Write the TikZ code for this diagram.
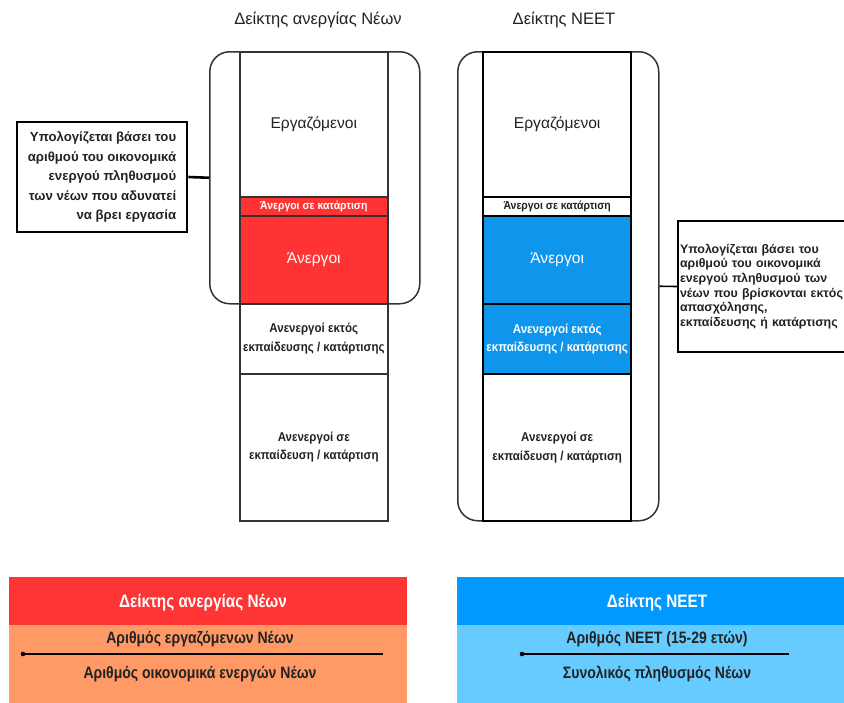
\documentclass[tikz,border=0pt]{standalone}
\usepackage{fontspec}
\setmainfont{Liberation Sans}
\newfontfamily\narrow[FakeStretch=0.85]{Liberation Sans}
\newfontfamily\semi[FakeStretch=0.90]{Liberation Sans}
\definecolor{colred}{HTML}{FF3333}
\definecolor{colblue}{HTML}{0E96EC}
\definecolor{hdrred}{HTML}{FF3434}
\definecolor{salmon}{HTML}{FF9966}
\definecolor{hdrblue}{HTML}{0099FF}
\definecolor{lightblue}{HTML}{66CCFF}
\definecolor{txt}{HTML}{222222}
\definecolor{linegray}{HTML}{333333}
\begin{document}
\begin{tikzpicture}[x=1pt,y=-1pt,
  outer/.style={draw=linegray,line width=1.5pt,rounded corners=20pt,inner sep=0pt,anchor=north west},
  bandL/.style={draw=linegray,line width=1.6pt,inner sep=0pt,anchor=north west,minimum width=148pt,align=center,text=txt},
  bandR/.style={draw=black,line width=2.4pt,inner sep=0pt,anchor=north west,minimum width=148pt,align=center,text=txt},
  colword/.style={font=\fontsize{15.6}{18}\selectfont},
  smallword/.style={font=\semi\bfseries\fontsize{11.6}{13}\selectfont},
  inact/.style={font=\semi\bfseries\fontsize{12.8}{18.5}\selectfont},
  title/.style={font=\fontsize{16.5}{18}\selectfont,text=txt},
  hdr/.style={inner sep=0pt,anchor=north west,minimum width=398pt},
  hdrtext/.style={font=\narrow\bfseries\fontsize{18}{20}\selectfont,text=white},
  fractext/.style={font=\narrow\bfseries\fontsize{16.5}{18}\selectfont,text=txt},
  fracline/.style={line width=2pt,black}
]
\clip (0,0) rectangle (844,702);
\fill[white] (0,0) rectangle (844,702);

% titles
\node[title] (t1) at (318,20) {Δείκτης ανεργίας Νέων};
\node[title] (t2) at (564,20) {Δείκτης NEET};

% outer rounded frames
\node[outer,minimum width=210pt,minimum height=252pt] (oL) at (209,51) {};
\node[outer,minimum width=201pt,minimum height=469pt] (oR) at (457,51) {};

% left column
\node[bandL,minimum height=145pt,fill=white,colword] (L1) at (239,51) {Εργαζόμενοι};
\node[bandL,minimum height=19pt,fill=colred,smallword,text=white] (L2) at (239,196) {Άνεργοι σε κατάρτιση};
\node[bandL,minimum height=88pt,fill=colred,colword,text=white] (L3) at (239,215) {Άνεργοι};
\node[bandL,minimum height=70pt,fill=white,inact] (L4) at (239,303) {Ανενεργοί εκτός\\εκπαίδευσης / κατάρτισης};
\node[bandL,minimum height=147pt,fill=white,inact] (L5) at (239,373) {Ανενεργοί σε\\εκπαίδευση / κατάρτιση};

% right column
\node[bandR,minimum height=145pt,fill=white,colword] (R1) at (482,51) {Εργαζόμενοι};
\node[bandR,minimum height=19pt,fill=white,smallword] (R2) at (482,196) {Άνεργοι σε κατάρτιση};
\node[bandR,minimum height=88pt,fill=colblue,colword,text=white] (R3) at (482,215) {Άνεργοι};
\node[bandR,minimum height=70pt,fill=colblue,inact,text=white] (R4) at (482,303) {Ανενεργοί εκτός\\εκπαίδευσης / κατάρτισης};
\node[bandR,minimum height=147pt,fill=white,inact] (R5) at (482,373) {Ανενεργοί σε\\εκπαίδευση / κατάρτιση};

% callouts
\node[draw=black,line width=2.6pt,fill=white,inner xsep=0pt,minimum width=170pt,minimum height=110pt,align=right,
      font=\bfseries\fontsize{13.2}{19.5}\selectfont,text=txt] (cL) at (102,177)
  {Υπολογίζεται βάσει του\\αριθμού του οικονομικά\\ενεργού πληθυσμού\\των νέων που αδυνατεί\\να βρει εργασία};
\draw[line width=2.6pt] (cL.east) -- (oL.west);

\node[draw=black,line width=2pt,fill=white,text width=172pt,inner xsep=2pt,minimum height=131pt,align=left,anchor=west,
      font=\bfseries\fontsize{12.4}{14.6}\selectfont,text=txt] (cR) at (677,286.5)
  {Υπολογίζεται βάσει του\\αριθμού του οικονομικά\\ενεργού πληθυσμού των\\νέων που βρίσκονται εκτός\\απασχόλησης,\\εκπαίδευσης ή κατάρτισης};
\draw[line width=1.6pt] (oR.east) -- (cR.west);

% bottom left formula box
\node[hdr,fill=hdrred,minimum height=48pt] (hL) at (9,577) {};
\node[hdr,fill=salmon,minimum height=80pt] (bL) at (9,625) {};
\node[hdrtext] (hLt) at (203,603) {Δείκτης ανεργίας Νέων};
\node[fractext] (nL) at (200,639) {Αριθμός εργαζόμενων Νέων};
\node[fractext] (dL) at (200,674) {Αριθμός οικονομικά ενεργών Νέων};
\coordinate (fLa) at (23,654);
\coordinate (fLb) at (383,654);
\draw[fracline] (fLa) -- (fLb);
\fill (fLa) circle (2.3pt);

% bottom right formula box
\node[hdr,fill=hdrblue,minimum height=48pt,minimum width=400pt] (hR) at (457,577) {};
\node[hdr,fill=lightblue,minimum height=80pt,minimum width=400pt] (bR) at (457,625) {};
\node[hdrtext] (hRt) at (657,603) {Δείκτης NEET};
\node[fractext] (nR) at (657,639) {Αριθμός NEET (15-29 ετών)};
\node[fractext] (dR) at (657,674) {Συνολικός πληθυσμός Νέων};
\coordinate (fRa) at (522,654);
\coordinate (fRb) at (789,654);
\draw[fracline] (fRa) -- (fRb);
\fill (fRa) circle (2.3pt);
\end{tikzpicture}
\end{document}
